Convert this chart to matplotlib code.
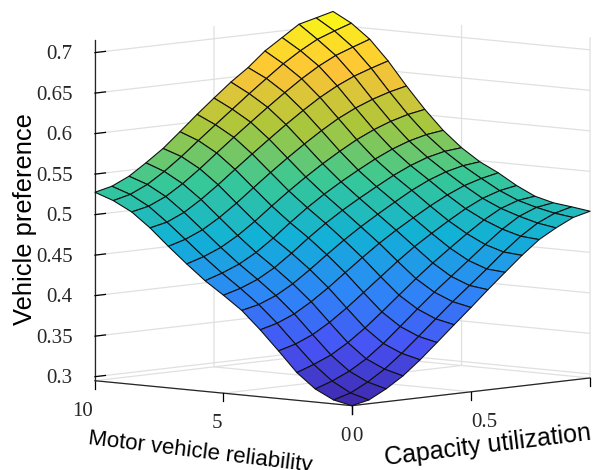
import numpy as np
import matplotlib
matplotlib.use("Agg")
import matplotlib.pyplot as plt
from matplotlib.colors import LinearSegmentedColormap
from matplotlib.transforms import Affine2D

capacity = [0, 0.071, 0.143, 0.214, 0.286, 0.357, 0.429, 0.5, 0.571, 0.643, 0.714, 0.786, 0.857, 0.929, 1]
reliability = [0, 0.714, 1.429, 2.143, 2.857, 3.571, 4.286, 5, 5.714, 6.429, 7.143, 7.857, 8.571, 9.286, 10]
preference = [
 [.2950,.2996,.3108,.3244,.3418,.3607,.3802,.3991,.4186,.4376,.4561,.4731,.4851,.4955,.5008],
 [.2998,.3060,.3170,.3305,.3475,.3660,.3852,.4040,.4215,.4395,.4580,.4750,.4888,.4985,.5040],
 [.3112,.3185,.3282,.3410,.3575,.3760,.3952,.4135,.4305,.4478,.4650,.4815,.4950,.5035,.5068],
 [.3292,.3368,.3460,.3588,.3744,.3918,.4101,.4280,.4449,.4608,.4762,.4907,.5025,.5099,.5127],
 [.3538,.3597,.3689,.3816,.3969,.4135,.4305,.4473,.4629,.4768,.4899,.5024,.5127,.5198,.5237],
 [.3776,.3832,.3923,.4049,.4198,.4359,.4520,.4672,.4810,.4938,.5060,.5171,.5262,.5326,.5372],
 [.3993,.4041,.4127,.4248,.4399,.4559,.4714,.4855,.4985,.5111,.5231,.5333,.5410,.5462,.5486],
 [.4159,.4219,.4305,.4425,.4579,.4744,.4899,.5036,.5160,.5279,.5393,.5491,.5567,.5617,.5638],
 [.4316,.4385,.4472,.4591,.4743,.4910,.5070,.5212,.5341,.5461,.5573,.5671,.5747,.5801,.5830],
 [.4501,.4566,.4655,.4778,.4929,.5093,.5254,.5403,.5542,.5672,.5790,.5889,.5968,.6028,.6067],
 [.4696,.4758,.4851,.4978,.5131,.5296,.5460,.5615,.5763,.5904,.6030,.6134,.6217,.6284,.6334],
 [.4902,.4948,.5044,.5179,.5336,.5502,.5667,.5826,.5982,.6131,.6268,.6386,.6481,.6555,.6621],
 [.5077,.5123,.5218,.5352,.5511,.5682,.5851,.6013,.6173,.6329,.6476,.6608,.6715,.6793,.6867],
 [.5195,.5247,.5345,.5481,.5640,.5813,.5984,.6151,.6319,.6482,.6639,.6776,.6892,.6971,.7043],
 [.5276,.5326,.5425,.5566,.5719,.5901,.6091,.6268,.6441,.6595,.6776,.6917,.7057,.7111,.7166],
]
x_ticks = [0, 0.5, 1]
x_ticklabels = ['0', '0.5', '']
y_ticks = [0, 5, 10]
y_ticklabels = ['0', '5', '10']
z_ticks = [0.3, 0.35, 0.4, 0.45, 0.5, 0.55, 0.6, 0.65, 0.7]
z_ticklabels = ['0.3', '0.35', '0.4', '0.45', '0.5', '0.55', '0.6', '0.65', '0.7']

parula = LinearSegmentedColormap.from_list('parula', [
    (0.2422, 0.1504, 0.6603), (0.2810, 0.3228, 0.9579), (0.1786, 0.5289, 0.9682),
    (0.0689, 0.6948, 0.8394), (0.2161, 0.7843, 0.5923), (0.6720, 0.7793, 0.2227),
    (0.9970, 0.7659, 0.2199), (0.9769, 0.9839, 0.0805)], N=256)

W, H = 593, 470
fig = plt.figure(figsize=(W / 100, H / 100), dpi=100, facecolor='white')
size = 585
cx, cy = 342.5, 470 - 209
ax = fig.add_axes([(cx - 0.5135 * size) / W, (cy - 0.5135 * size) / H, size / W, size / H],
                  projection='3d', proj_type='ortho', facecolor='none')
ax.view_init(elev=6.1, azim=-137.6)
ax.set_box_aspect((353, 348, 342.6))

X, Y = np.meshgrid(capacity, reliability)
Z = np.array(preference)
ax.plot_surface(X, Y, Z, rstride=1, cstride=1, cmap=parula, vmin=Z.min(), vmax=Z.max(),
                shade=False, edgecolor='#111111', linewidth=0.8, antialiased=True)
ax.set_xlim(0, 1)
ax.set_ylim(0, 10)
ax.set_zlim(0.295, 0.7155)

ax.set_xticks(x_ticks, x_ticklabels)
ax.set_yticks(y_ticks, y_ticklabels)
ax.set_zticks(z_ticks, z_ticklabels)

for axis in (ax.xaxis, ax.yaxis, ax.zaxis):
    axis.set_pane_color((1, 1, 1, 0))
    axis.pane.set_edgecolor((1, 1, 1, 0))
    axis.line.set_color('#262626')
    axis.line.set_linewidth(0.9)
    axis._axinfo['grid'].update(color='#e0e0e0', linewidth=0.9)
    axis._axinfo['tick'].update(inward_factor=0, outward_factor=0.3, color='#262626',
                                linewidth={True: 0.9, False: 0.5})
ax.zaxis._axinfo['tick'].update(outward_factor=0.55)
ax.xaxis._get_tickdir = lambda position: 2
ax.yaxis._get_tickdir = lambda position: 2

def shift_tick_labels(axis, dx, dy, **props):
    orig = axis.get_major_ticks
    def patched(numticks=None):
        ticks = orig(numticks)
        for t in ticks:
            t.label1.set_transform(ax.transData + Affine2D().translate(dx, dy))
            t.label1.set(**props)
        return ticks
    axis.get_major_ticks = patched

def shift_label(axis, dx, dy):
    shifted = ax.transData + Affine2D().translate(dx, dy)
    axis.label.get_transform = lambda: shifted

serif = 'Liberation Serif'
ax.tick_params(axis='x', pad=1, labelsize=15, labelcolor='#262626', labelfontfamily=serif)
ax.tick_params(axis='y', pad=1, labelsize=15, labelcolor='#262626', labelfontfamily=serif)
ax.tick_params(axis='z', pad=6, labelsize=15, labelcolor='#262626', labelfontfamily=serif)
shift_tick_labels(ax.xaxis, -10, -6, ha='left')
shift_tick_labels(ax.yaxis, 8, -6, ha='right')
shift_tick_labels(ax.zaxis, 9, -2, va='center', ha='right')

sans = 'Liberation Sans'
ax.set_xlabel('Capacity utilization', fontsize=18, family=sans, labelpad=10, rotation=7)
ax.set_ylabel('Motor vehicle reliability', fontsize=16, family=sans, labelpad=10, rotation=-7)
ax.set_zlabel('Vehicle preference', fontsize=18.4, family=sans, labelpad=10, rotation=90)
ax.xaxis.set_rotate_label(False)
ax.yaxis.set_rotate_label(False)
ax.zaxis.set_rotate_label(False)
shift_label(ax.xaxis, -20, -2)
shift_label(ax.yaxis, 10, -7)
shift_label(ax.zaxis, 0, -8)
fig.savefig('out.png', dpi=100)
